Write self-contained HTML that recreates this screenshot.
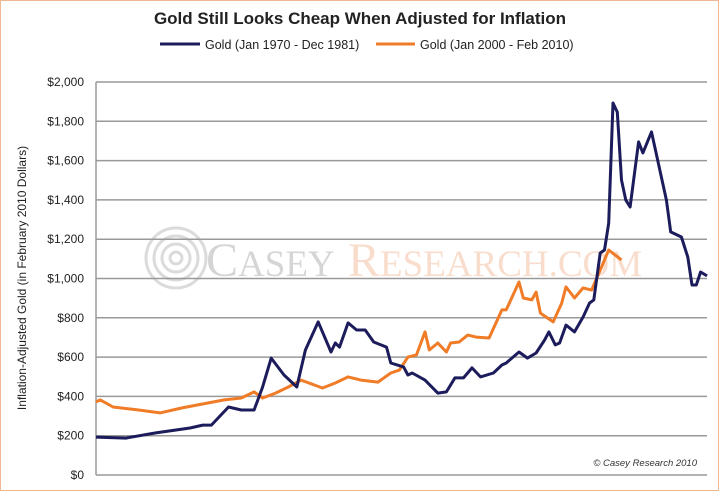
<!DOCTYPE html>
<html><head><meta charset="utf-8"><style>
body{margin:0;background:#fff;}
#wrap{position:relative;width:720px;height:491px;overflow:hidden;font-family:"Liberation Sans",sans-serif;}
</style></head><body>
<div id="wrap">
<svg id="svg" width="720" height="491">
<rect x="0.5" y="0.5" width="718" height="490" fill="#fff" stroke="#f0b890"/>
<text x="360" y="24" text-anchor="middle" font-size="17" font-weight="bold" fill="#222">Gold Still Looks Cheap When Adjusted for Inflation</text>
<line x1="160" y1="44" x2="200" y2="44" stroke="#1c1c5c" stroke-width="3"/>
<text x="205" y="49" font-size="12.5" fill="#222">Gold (Jan 1970 - Dec 1981)</text>
<line x1="376" y1="44" x2="415" y2="44" stroke="#f07c28" stroke-width="3"/>
<text x="420" y="49" font-size="12.5" fill="#222">Gold (Jan 2000 - Feb 2010)</text>
<text transform="translate(26,278) rotate(-90)" text-anchor="middle" font-size="12" fill="#222">Inflation-Adjusted Gold (in February 2010 Dollars)</text>
<g id="grid"></g>
<g opacity="0.35">
<circle cx="176" cy="258" r="30" fill="none" stroke="#999" stroke-width="3"/>
<circle cx="176" cy="258" r="22" fill="none" stroke="#999" stroke-width="3"/>
<circle cx="176" cy="258" r="14" fill="none" stroke="#999" stroke-width="3"/>
<circle cx="176" cy="258" r="6" fill="none" stroke="#999" stroke-width="3"/>
<text x="206" y="276" font-family="Liberation Serif,serif" font-size="48" fill="#888">C<tspan font-size="37">ASEY</tspan></text>
<text x="348" y="276" font-family="Liberation Serif,serif" font-size="48" fill="#f0a070">R<tspan font-size="37">ESEARCH.COM</tspan></text>
</g>
<g id="series"></g>
<text x="697" y="466" text-anchor="end" font-size="9.5" font-style="italic" fill="#333">© Casey Research 2010</text>
</svg>
</div>
<script>
const yTicks=[0,200,400,600,800,1000,1200,1400,1600,1800,2000];
const yTickLabels=["$0","$200","$400","$600","$800","$1,000","$1,200","$1,400","$1,600","$1,800","$2,000"];
const navyMonths=[0,7,14,22,25,27,31,34,37,39,41,44,47,49,52,55,56,57,59,61,63,65,68,69,72,73,74,77,80,82,84,86,88,90,93,95,96,99,101,103,105,106,107.5,108.5,110,112,114,115.5,116.5,118,119,120,121,122,123,124,125,127,128,130,133.5,134.5,137,138.5,139.5,140.5,141.5,143];
const navyValues=[193,188,214,239,254,254,346,331,331,448,595,509,448,636,779,626,672,651,774,738,738,677,651,570,550,509,519,483,417,423,494,494,545,499,519,560,570,626,595,621,687,728,662,672,763,728,804,875,891,1130,1145,1282,1893,1847,1501,1399,1364,1695,1639,1746,1399,1237,1211,1109,967,967,1033,1013];
const orangeMonths=[0,1,4,10,15,20,26,30,34,37,39,42,45,48,53,56,59,62,66,69,71,73,75,77,78,80,82,83,85,87,89,92,95,96,99,100,102,103,104,107,109,110,112,114,116,118,120,123];
const orangeValues=[372,382,346,331,316,341,366,382,392,423,392,417,448,483,443,468,499,483,473,519,534,600,611,728,636,672,626,672,677,712,702,697,840,840,982,901,891,931,824,779,875,957,901,952,941,1043,1145,1094];
const X0=96,X1=707,Y0=475,Y1=82;
const xs=m=>X0+(X1-X0)*m/143;
const ys=v=>Y0-(Y0-Y1)*v/2000;
const NS="http://www.w3.org/2000/svg";
const grid=document.getElementById('grid');
yTicks.forEach((t,i)=>{
 const l=document.createElementNS(NS,'line');
 l.setAttribute('x1',X0);l.setAttribute('x2',X1);l.setAttribute('y1',ys(t));l.setAttribute('y2',ys(t));
 l.setAttribute('stroke','#999');l.setAttribute('stroke-width','1.5');
 
 
 grid.appendChild(l);
 const tx=document.createElementNS(NS,'text');
 tx.setAttribute('x',84);tx.setAttribute('y',ys(t)+4);tx.setAttribute('text-anchor','end');
 tx.setAttribute('font-size','12');tx.setAttribute('fill','#222');tx.textContent=yTickLabels[i];
 
 
 grid.appendChild(tx);
});
const ax=document.createElementNS(NS,'line');
ax.setAttribute('x1',X0);ax.setAttribute('x2',X0);ax.setAttribute('y1',Y1);ax.setAttribute('y2',Y0);
ax.setAttribute('stroke','#999');ax.setAttribute('stroke-width','1.5');


grid.appendChild(ax);
const ser=document.getElementById('series');
function line(ms,vs,color,name){
 const p=document.createElementNS(NS,'polyline');
 p.setAttribute('points',ms.map((m,i)=>xs(m).toFixed(1)+','+ys(vs[i]).toFixed(1)).join(' '));
 p.setAttribute('fill','none');p.setAttribute('stroke',color);p.setAttribute('stroke-width','3');
 p.setAttribute('stroke-linejoin','round');
 
 
 ser.appendChild(p);
}
line(orangeMonths,orangeValues,'#f07c28','series-2000-2010');
line(navyMonths,navyValues,'#1c1c5c','series-1970-1981');
</script>
</body></html>
